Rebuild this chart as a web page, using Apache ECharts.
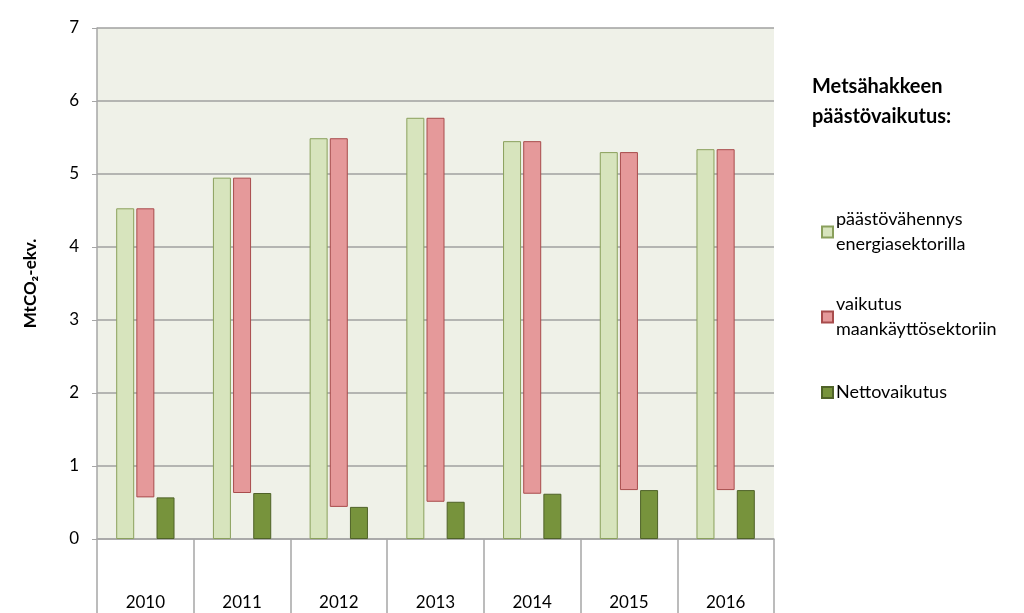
<!DOCTYPE html>
<html>
<head>
<meta charset="utf-8">
<script src="https://cdn.jsdelivr.net/npm/echarts@6/dist/echarts.min.js"></script>
<style>
  html, body { margin: 0; padding: 0; background: #fff; }
  #chart { width: 1024px; height: 613px; }
</style>
</head>
<body>
<div id="chart"></div>
<script>
// data
var years = ['2010', '2011', '2012', '2013', '2014', '2015', '2016']
var energyReduction = [4.53, 4.95, 5.49, 5.77, 5.45, 5.30, 5.34]
var netEffect = [0.57, 0.63, 0.44, 0.51, 0.62, 0.67, 0.67]
var yTicks = [0, 1, 2, 3, 4, 5, 6, 7]

var NAME_ENERGY = 'päästövähennys energiasektorilla'
var NAME_LAND = 'vaikutus maankäyttösektoriin'
var NAME_NET = 'Nettovaikutus'

// land-use bar floats from the net value up to the energy value
var landUse = energyReduction.map(function (v, i) {
  return +(v - netEffect[i]).toFixed(2)
})

var font = 'Lato, "Open Sans", sans-serif'
var chart = echarts.init(document.getElementById('chart'))

function legendBlock(name, top) {
  return {
    data: [name],
    left: 816,
    top: top,
    orient: 'vertical',
    icon: 'rect',
    itemWidth: 11,
    itemHeight: 11,
    itemGap: 6,
    align: 'left',
    formatter: function (n) {
      if (n === NAME_ENERGY) return 'päästövähennys\nenergiasektorilla'
      if (n === NAME_LAND) return 'vaikutus\nmaankäyttösektoriin'
      return n
    },
    textStyle: { fontFamily: font, fontSize: 18, color: '#000', lineHeight: 25, padding: [0, 0, 0, -2] },
    selectedMode: false
  }
}

chart.setOption({
  animation: false,
  backgroundColor: '#fff',
  title: {
    text: 'Metsähakkeen\npäästövaikutus:',
    left: 807,
    top: 67,
    textStyle: { fontFamily: font, fontSize: 20, fontWeight: 'bold', color: '#000', lineHeight: 30 }
  },
  legend: [
    legendBlock(NAME_ENERGY, 202),
    legendBlock(NAME_LAND, 287),
    legendBlock(NAME_NET, 375)
  ],
  grid: {
    left: 97,
    right: 250,
    top: 28,
    bottom: 74,
    show: true,
    backgroundColor: '#eff1e8',
    borderWidth: 0
  },
  xAxis: {
    type: 'category',
    data: years,
    boundaryGap: true,
    axisLine: { lineStyle: { color: '#a6a6a6', width: 1.5 } },
    axisTick: { show: true, interval: 0, length: 74, lineStyle: { color: '#a6a6a6', width: 1.5 } },
    axisLabel: { margin: 55, fontFamily: font, fontSize: 17, color: '#000' }
  },
  yAxis: {
    type: 'value',
    min: yTicks[0],
    max: yTicks[yTicks.length - 1],
    interval: 1,
    name: 'MtCO₂-ekv.',
    nameLocation: 'middle',
    nameGap: 58,
    nameRotate: 90,
    nameTextStyle: { fontFamily: font, fontSize: 17, fontWeight: 'bold', color: '#000' },
    axisLine: { show: true, lineStyle: { color: '#a6a6a6', width: 1.5 } },
    axisTick: { show: true, length: 5, lineStyle: { color: '#a6a6a6' } },
    axisLabel: { margin: 18, fontFamily: font, fontSize: 17, color: '#000' },
    splitLine: { show: true, lineStyle: { color: '#a0a0a0', width: 1.5 } }
  },
  series: [
    {
      name: NAME_ENERGY,
      type: 'bar',
      stack: 'energy',
      barWidth: 18,
      barGap: '12%',
      itemStyle: { color: '#d7e4bd', borderColor: '#8aa05c', borderWidth: 1 },
      data: energyReduction
    },
    {
      name: 'base',
      type: 'bar',
      stack: 'land',
      barWidth: 18,
      itemStyle: { color: 'transparent', borderWidth: 0 },
      emphasis: { disabled: true },
      data: netEffect
    },
    {
      name: NAME_LAND,
      type: 'bar',
      stack: 'land',
      barWidth: 18,
      itemStyle: { color: '#e5999a', borderColor: '#a84c4c', borderWidth: 1 },
      data: landUse
    },
    {
      name: NAME_NET,
      type: 'bar',
      stack: 'net',
      barWidth: 18,
      itemStyle: { color: '#77933c', borderColor: '#4f6228', borderWidth: 1 },
      data: netEffect
    }
  ]
})
</script>
</body>
</html>
